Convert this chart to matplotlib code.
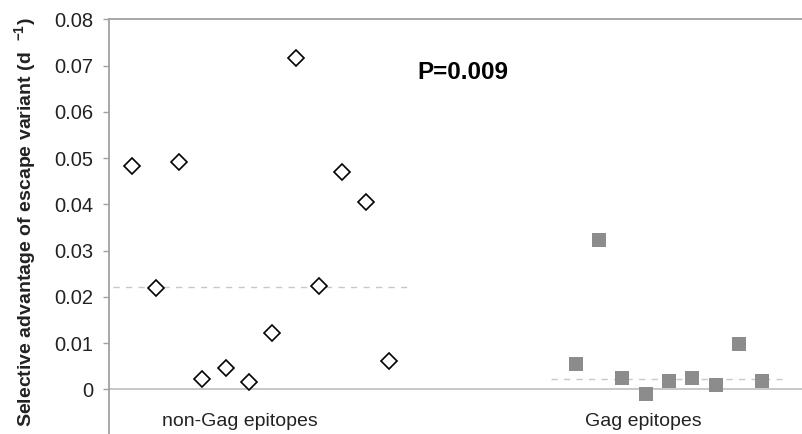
import matplotlib
matplotlib.use("Agg")
import matplotlib.pyplot as plt

plt.rcParams['font.family'] = ['Liberation Sans', 'DejaVu Sans']
plt.rcParams['mathtext.fontset'] = 'custom'
plt.rcParams['mathtext.rm'] = 'Liberation Sans:bold'
plt.rcParams['mathtext.default'] = 'rm'

# datos
non_gag_x = [1, 2, 3, 4, 5, 6, 7, 8, 9, 10, 11, 12]
non_gag_y = [0.0483, 0.0219, 0.0491, 0.0022, 0.0046, 0.0017,
             0.0121, 0.0716, 0.0224, 0.0469, 0.0406, 0.0061]
gag_x = [20, 21, 22, 23, 24, 25, 26, 27, 28]
gag_y = [0.0056, 0.0324, 0.0024, -0.0009, 0.0018, 0.0024, 0.0009, 0.0099, 0.0018]
non_gag_mean = 0.0221
gag_mean = 0.0023
group_labels = ["non-Gag epitopes", "Gag epitopes"]
group_label_x = [5.6, 22.9]
p_text = "P=0.009"

fig = plt.figure(figsize=(8.02, 4.34), dpi=100)
ax = fig.add_axes([0.136, -0.004, 0.864, 0.9595])

# lineas de media (discontinuas)
ax.plot([0.17, 12.9], [non_gag_mean, non_gag_mean], ls=(0, (4.5, 4.5)),
        color="#c8c8c8", lw=1.0, zorder=1)
ax.plot([18.96, 28.86], [gag_mean, gag_mean], ls=(0, (4.5, 4.5)),
        color="#c8c8c8", lw=1.0, zorder=1)

# linea del cero
ax.axhline(0, color="#c4c4c4", lw=1.3, zorder=1)

ax.plot(non_gag_x, non_gag_y, ls="none", marker="D", markersize=7.8,
        markerfacecolor="white", markeredgecolor="black", markeredgewidth=1.2, zorder=3)
ax.plot(gag_x, gag_y, ls="none", marker="s", markersize=10,
        markerfacecolor="#8c8c8c", markeredgewidth=0, zorder=3)

ax.set_xlim(0, 29.7)
ax.set_ylim(-0.01, 0.08)
ax.set_yticks([0, 0.01, 0.02, 0.03, 0.04, 0.05, 0.06, 0.07, 0.08])
ax.set_yticklabels(["0", "0.01", "0.02", "0.03", "0.04", "0.05", "0.06", "0.07", "0.08"])
ax.set_xticks([])
ax.tick_params(axis="y", length=4.5, width=1, color="#a0a0a0", pad=7,
               labelsize=14.5, labelcolor="#222222")

for s in ["right", "bottom"]:
    ax.spines[s].set_visible(False)
for s in ["left", "top"]:
    ax.spines[s].set_color("#a0a0a0")
    ax.spines[s].set_linewidth(1.3)

for lab, xx in zip(group_labels, group_label_x):
    ax.text(xx, -0.0069, lab, ha="center", va="center", fontsize=14, color="#222222")

ax.text(13.2, 0.0684, p_text, ha="left", va="center", fontsize=17.5,
        fontweight="bold", color="black")

fig.text(25 / 802, 1 - 17 / 434, r"Selective advantage of escape variant (d  $^{-1}$)",
         rotation=90, ha="center", va="top", fontsize=14, fontweight="bold",
         color="#222222")

fig.savefig("out.png", dpi=100)
